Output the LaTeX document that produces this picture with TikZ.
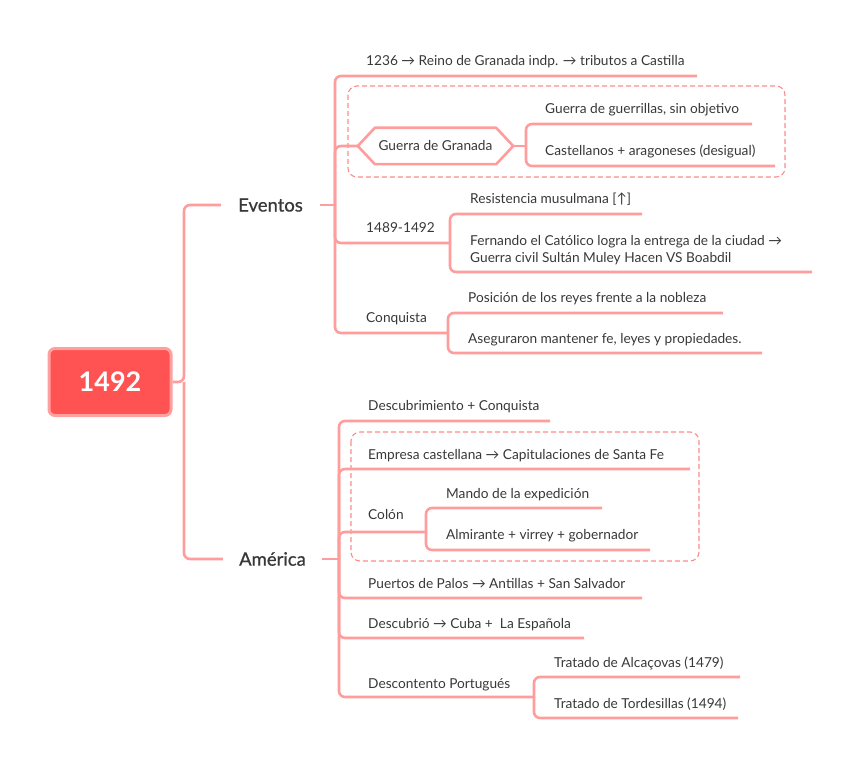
\documentclass[tikz,border=0pt]{standalone}
\usepackage{fontspec}
\setmainfont{Lato}
\newfontfamily\medfont{Lato}[FakeBold=0.7]
\definecolor{lnk}{HTML}{FF9C9C}
\definecolor{dsh}{HTML}{FF8C8C}
\definecolor{rootfill}{HTML}{FF5252}
\definecolor{rootedge}{HTML}{FFA0A0}
\definecolor{txt}{HTML}{383838}
\begin{document}
\begin{tikzpicture}[x=1pt,y=-1pt,
  conn/.style={draw=lnk,line width=2.6pt,rounded corners=6pt},
  leaf/.style={anchor=base west,inner sep=0pt,text=txt,font=\fontsize{13.7}{17}\selectfont,align=left},
  mainb/.style={inner xsep=0pt,inner ysep=0pt,minimum width=99pt,text=txt,font=\fontsize{18.5}{21}\selectfont\medfont},
  dbox/.style={draw=dsh,line width=1.1pt,dash pattern=on 5pt off 3pt,rounded corners=9pt},
  rootbox/.style={fill=rootfill,draw=rootedge,line width=3pt,rounded corners=6pt,minimum width=122pt,minimum height=67pt,text=white,font=\fontsize{27}{30}\selectfont\bfseries}]
\useasboundingbox (0,0) rectangle (848,767);

% dashed group boxes
\draw[dbox] (348,86) rectangle (785,177);
\draw[dbox] (351,432) rectangle (699,561);

% root and main branches
\node[rootbox] (root) at (110,382) {1492};
\node[mainb] (ev) at (270.5,205) {Eventos};
\node[mainb] (am) at (272.5,559) {América};
\coordinate (rj) at (184,382);
\draw[conn] (root.east) -- (rj) |- (ev.west);
\draw[conn] (rj) |- (am.west);

% ---------- Eventos ----------
\coordinate (evj) at (335,205);
\draw[conn] (ev.east) -- (evj);

\node[leaf] (t1236) at (366,66) {1236 → Reino de Granada indp. → tributos a Castilla};
\coordinate (u1236) at (697,76);
\draw[conn] (evj) |- (u1236);

\node[inner sep=0pt,minimum width=155pt,minimum height=36pt,text=txt,font=\fontsize{13.7}{17}\selectfont] (gg) at (435.5,146) {Guerra de Granada};
\draw[draw=lnk,line width=2.6pt,line join=round] (gg.west) -- ([xshift=17pt]gg.north west) -- ([xshift=-17pt]gg.north east) -- (gg.east) -- ([xshift=-17pt]gg.south east) -- ([xshift=17pt]gg.south west) -- cycle;
\draw[conn] (evj) |- (gg.west);
\coordinate (jg) at (526,146);
\draw[conn] (gg.east) -- (jg);
\node[leaf] (tgue) at (545,114) {Guerra de guerrillas, sin objetivo};
\coordinate (ugue) at (752,124);
\node[leaf] (tcas) at (545,156) {Castellanos + aragoneses (desigual)};
\coordinate (ucas) at (775,166);
\draw[conn] (jg) |- (ugue);
\draw[conn] (jg) |- (ucas);

\node[leaf] (t1489) at (366,233) {1489-1492};
\coordinate (j1489) at (450,243);
\draw[conn] (evj) |- (j1489);
\node[leaf] (tres) at (470,204) {Resistencia musulmana [↑]};
\coordinate (ures) at (642,214);
\node[leaf] (tfer) at (470,262) {Fernando el Católico logra la entrega de la ciudad →\\Guerra civil Sultán Muley Hacen VS Boabdil};
\coordinate (ufer) at (812,272);
\draw[conn] (j1489) |- (ures);
\draw[conn] (j1489) |- (ufer);

\node[leaf] (tcon) at (366,322) {Conquista};
\coordinate (jcon) at (448,333);
\draw[conn] (evj) |- (jcon);
\node[leaf] (tpos) at (468,302) {Posición de los reyes frente a la nobleza};
\coordinate (upos) at (723,313);
\node[leaf] (tase) at (468,343) {Aseguraron mantener fe, leyes y propiedades.};
\coordinate (uase) at (762,353);
\draw[conn] (jcon) |- (upos);
\draw[conn] (jcon) |- (uase);

% ---------- América ----------
\coordinate (amj) at (339,559);
\draw[conn] (am.east) -- (amj);

\node[leaf] (tdes) at (368,410) {Descubrimiento + Conquista};
\coordinate (udes) at (550,421);
\draw[conn] (amj) |- (udes);

\node[leaf] (temp) at (368,459) {Empresa castellana → Capitulaciones de Santa Fe};
\coordinate (uemp) at (690,469);
\draw[conn] (amj) |- (uemp);

\node[leaf] (tcol) at (368,519) {Colón};
\coordinate (jcol) at (426,532);
\draw[conn] (amj) |- (jcol);
\node[leaf] (tman) at (446,498) {Mando de la expedición};
\coordinate (uman) at (602,508);
\node[leaf] (talm) at (446,539) {Almirante + virrey + gobernador};
\coordinate (ualm) at (650,550);
\draw[conn] (jcol) |- (uman);
\draw[conn] (jcol) |- (ualm);

\node[leaf] (tpue) at (368,588) {Puertos de Palos → Antillas + San Salvador};
\coordinate (upue) at (642,598);
\draw[conn] (amj) |- (upue);

\node[leaf] (tdsc) at (368,628) {Descubrió → Cuba + \ La Española};
\coordinate (udsc) at (584,638);
\draw[conn] (amj) |- (udsc);

\node[leaf] (tpor) at (368,688) {Descontento Portugués};
\coordinate (jpor) at (534,697);
\draw[conn] (amj) |- (jpor);
\node[leaf] (talc) at (554,667) {Tratado de Alcaçovas (1479)};
\coordinate (ualc) at (740,677);
\node[leaf] (ttor) at (554,708) {Tratado de Tordesillas (1494)};
\coordinate (utor) at (738,718);
\draw[conn] (jpor) |- (ualc);
\draw[conn] (jpor) |- (utor);
\end{tikzpicture}
\end{document}
